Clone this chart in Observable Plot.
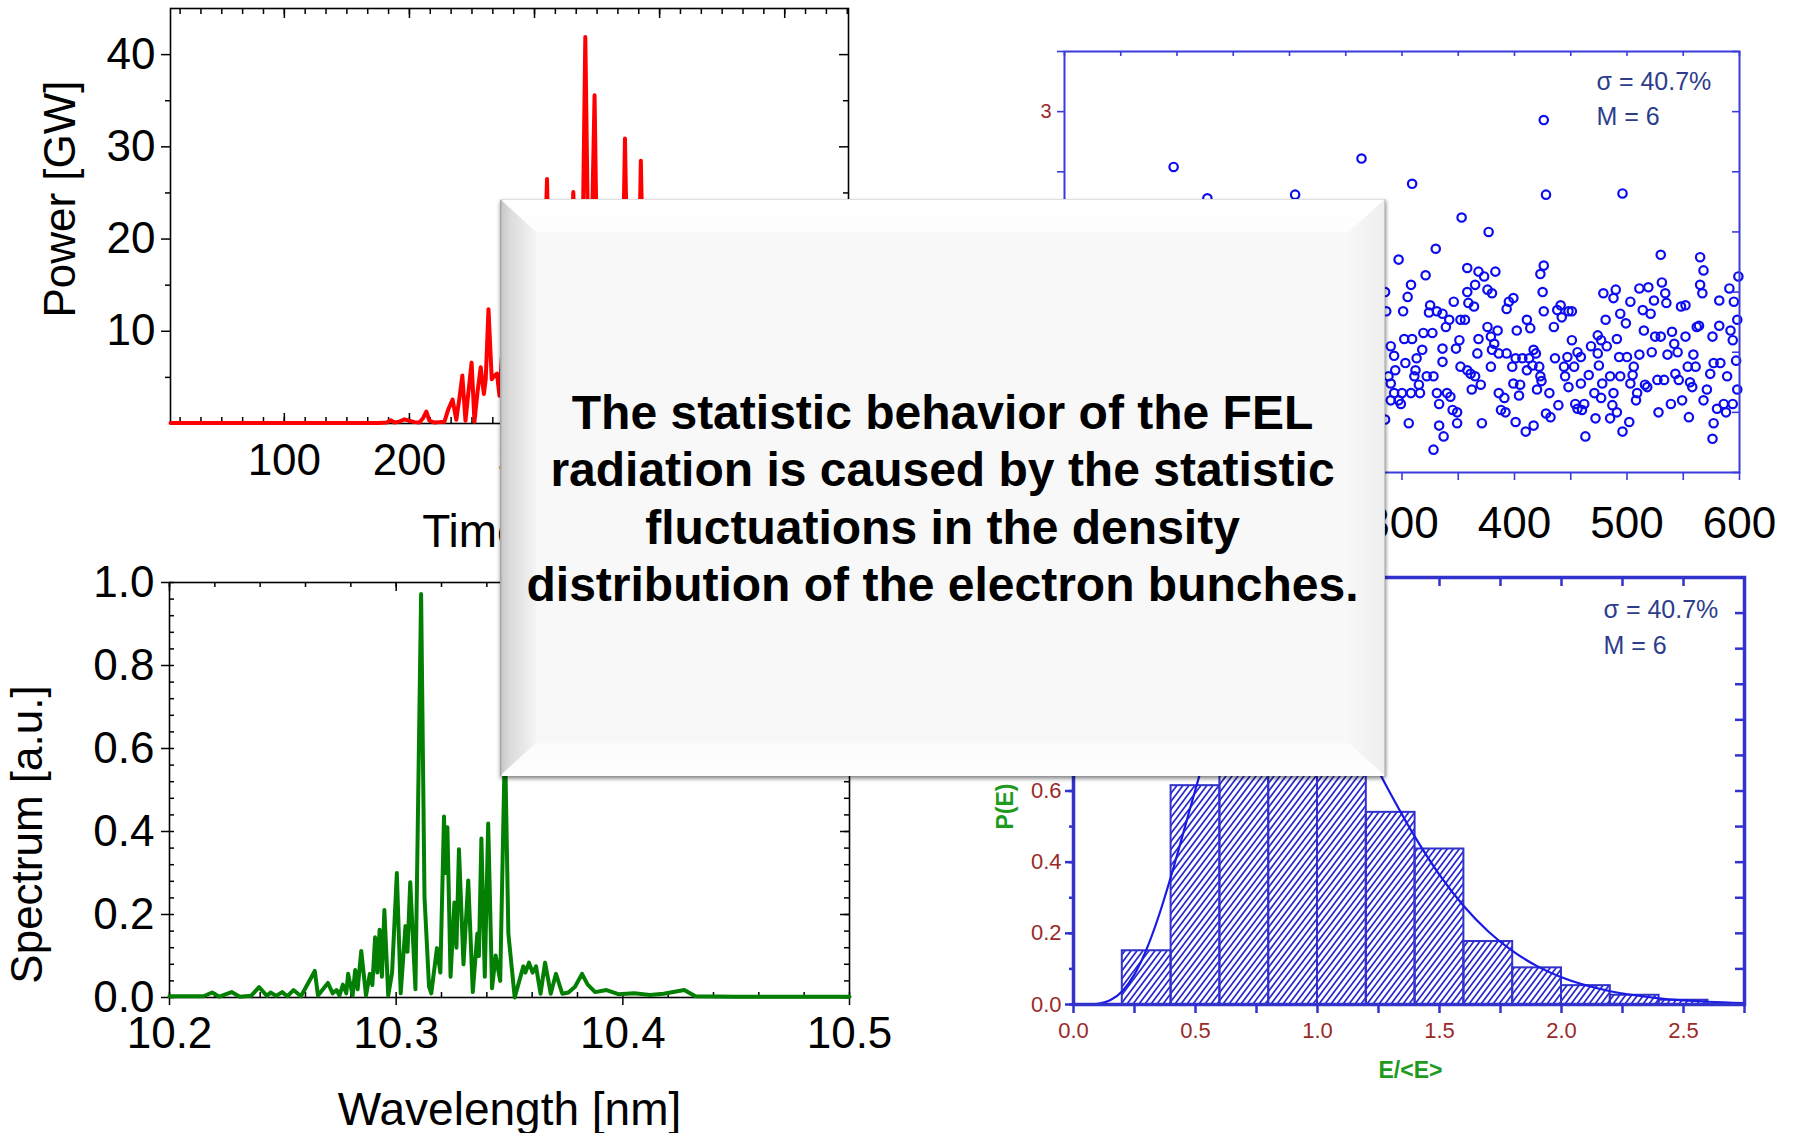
<!DOCTYPE html>
<html>
<head>
<meta charset="utf-8">
<script src="https://cdn.jsdelivr.net/npm/d3@7"></script>
<script src="https://cdn.jsdelivr.net/npm/@observablehq/plot@0.6"></script>
<style>
  html,body{margin:0;padding:0;background:#fff;}
  body{position:relative;width:1794px;height:1133px;overflow:hidden;font-family:"Liberation Sans",Arial,Helvetica,sans-serif;}
  .panel{position:absolute;}
  .panel svg{max-width:none;overflow:visible;}
  #overlay{position:absolute;left:500px;top:199px;width:885px;height:577px;background:#f8f8f8;
    box-shadow:0 3px 4px rgba(0,0,0,0.38), 2px 1px 3px rgba(0,0,0,0.18);}
  #overlay svg{position:absolute;left:0;top:0;}
  #msg{position:absolute;left:0;width:885px;top:185px;text-align:center;font-weight:bold;font-size:48px;line-height:57.3px;color:#000;white-space:nowrap;}
</style>
</head>
<body>
<div id="pA" class="panel" style="left:0;top:0;width:900px;height:560px"></div>
<div id="pB" class="panel" style="left:1000px;top:0;width:794px;height:560px"></div>
<div id="pC" class="panel" style="left:0;top:560px;width:900px;height:573px"></div>
<div id="pD" class="panel" style="left:980px;top:560px;width:814px;height:573px"></div>
<div id="overlay">
  <svg width="885" height="577">
    <defs>
      <linearGradient id="bvL" x1="0" x2="1" y1="0" y2="0"><stop offset="0" stop-color="#c6c6c6"/><stop offset="0.3" stop-color="#dcdcdc"/><stop offset="1" stop-color="#f4f4f4"/></linearGradient>
      <linearGradient id="bvT" x1="0" x2="0" y1="0" y2="1"><stop offset="0" stop-color="#ffffff"/><stop offset="1" stop-color="#fdfdfd"/></linearGradient>
      <linearGradient id="bvR" x1="1" x2="0" y1="0" y2="0"><stop offset="0" stop-color="#eeeeee"/><stop offset="1" stop-color="#f7f7f7"/></linearGradient>
      <linearGradient id="bvB" x1="0" x2="0" y1="1" y2="0"><stop offset="0" stop-color="#fefefe"/><stop offset="1" stop-color="#fbfbfb"/></linearGradient>
    </defs>
    <polygon points="0,0 885,0 849,33 36,33" fill="url(#bvT)"/>
    <polygon points="0,0 36,33 36,544 0,577" fill="url(#bvL)"/>
    <polygon points="885,0 885,577 849,544 849,33" fill="url(#bvR)"/>
    <polygon points="0,577 36,544 849,544 885,577" fill="url(#bvB)"/>
    <line x1="0.75" y1="0" x2="0.75" y2="577" stroke="#a8a8a8" stroke-width="1.5"/>
    <line x1="0" y1="0.5" x2="885" y2="0.5" stroke="#e0e0e0" stroke-width="1"/>
    <line x1="884.5" y1="0" x2="884.5" y2="577" stroke="#c8c8c8" stroke-width="1"/>
  </svg>
  <div id="msg">The statistic behavior of the FEL<br>radiation is caused by the statistic<br>fluctuations in the density<br>distribution of the electron bunches.</div>
</div>
<script>
const FONT = '"Liberation Sans", Arial, Helvetica, sans-serif';

// ---------- Panel A: power vs time ----------
const timeFs = [9, 60, 120, 175, 182, 185, 188, 192, 196, 200, 204, 208, 211, 213.5, 216, 220, 224, 228, 231, 234.5, 237.5, 240, 242.3, 244.8, 247, 249.7, 252, 254.5, 257, 259.5, 261, 263.2, 265.8, 268, 270, 272, 274.5, 277, 280, 283, 286, 289, 292, 295, 298, 301, 304, 307, 310, 313, 316, 319, 322, 325, 328, 331, 334, 337, 340.6, 344, 348, 351, 354, 357, 360, 363, 366, 369, 372.3, 375.5, 379, 382, 385, 388.5, 392, 395, 398, 401, 404, 407, 410, 413, 416, 419, 422, 425, 428, 431, 434, 437, 440, 443, 447, 451, 455, 459, 463, 468, 473, 478, 484, 490, 500, 510, 530, 551];
const powerGW = [0.05, 0.05, 0.05, 0.05, 0.1, 0.35, 0.1, 0.2, 0.45, 0.3, 0.15, 0.1, 0.6, 1.3, 0.3, 0.1, 0.15, 0.2, 1.5, 2.6, 0.4, 2.8, 5.2, 0.3, 3.2, 6.6, 0.2, 3.5, 6.1, 3.2, 4.8, 12.4, 4.8, 5.2, 5.4, 3.0, 8.5, 5.0, 14.0, 4.0, 9.0, 17.5, 6.0, 11.0, 3.5, 19.0, 7.0, 13.0, 26.5, 5.0, 15.5, 8.0, 21.0, 6.0, 12.0, 25.1, 10.0, 4.0, 41.9, 8.0, 35.6, 7.0, 17.0, 5.0, 22.0, 9.0, 14.0, 4.0, 30.9, 6.0, 13.0, 5.0, 28.5, 4.0, 16.0, 5.0, 11.0, 3.0, 19.0, 4.5, 9.0, 2.5, 13.0, 3.0, 7.5, 1.5, 10.0, 2.0, 5.0, 1.0, 6.5, 1.2, 3.5, 0.6, 2.5, 0.5, 1.6, 0.4, 1.0, 0.2, 0.5, 0.1, 0.2, 0.05, 0.05, 0.05];
const powerTickValues = [10, 20, 30, 40];
const powerMinorValues = [5, 15, 25, 35];
const timeTickValues = [100, 200, 300, 400, 500];

// ---------- Panel B: shot-to-shot fluctuations ----------
const shotNo = [
  285,286,290,293,288,290,294,290,297,299,285,293,300,
  297,308,305,301,302,309,306,303,308,311,313,312,315,316,318,319,
  321,325,324,330,327,322,328,333,337,328,331,333,331,336,
  336,339,342,336,340,343,345,349,349,346,348,351,352,352,
  358,358,356,359,364,361,362,367,368,365,368,358,370,371,365,
  373,376,376,377,380,379,380,382,385,383,379,386,388,391,392,386,
  393,395,399,393,398,402,399,401,407,404,401,405,410,
  411,414,413,411,416,417,417,420,423,424,419,422,425,426,
  423,426,428,431,432,435,436,439,441,442,438,444,445,
  447,448,451,448,451,453,456,454,456,459,459,462,460,463,
  466,468,471,472,474,474,475,477,478,477,
  479,481,482,485,485,487,488,490,491,491,488,493,494,494,496,
  499,500,502,503,503,505,506,508,511,511,509,514,515,516,
  518,519,521,522,524,525,527,528,530,531,530,533,534,
  535,536,539,540,542,543,545,546,548,549,
  552,552,554,555,556,558,559,561,562,564,565,565,
  567,568,568,571,574,576,577,577,576,582,582,580,583,
  586,588,589,591,592,594,594,595,597,598,599,598,
  309,353,426,428,496,
  97,127,205,264,
  3,8,12,17,21,26,30,35,39,44,48,53,57,62,66,71,75,80,84,89,93,102,106,111,115,120,124,131,135,140,144,149,153,158,162,167,171,176,180,185,189,194,198,202,209,213,218,222,227,231,236,240,245,249,254,258,262,268,272,276,280
];
const energyRatio = [
  1.50,1.34,1.05,0.97,0.80,0.74,0.85,0.60,0.60,0.57,0.44,0.66,0.66,
  1.77,1.56,1.46,1.34,1.11,1.11,0.41,0.91,0.66,0.80,0.95,0.85,0.73,0.66,1.02,1.16,
  1.64,1.39,1.33,1.86,1.16,0.80,0.80,0.39,0.30,0.19,0.66,0.57,1.34,1.32,
  1.03,1.21,1.27,0.92,0.66,0.63,0.52,0.50,0.41,1.42,1.03,1.10,1.27,0.88,
  1.70,1.50,1.27,1.41,1.38,0.82,0.69,0.99,1.11,1.56,1.67,0.85,0.73,0.41,0.80,
  1.63,1.52,1.21,2.00,1.49,1.13,1.02,1.07,1.18,1.67,0.88,0.66,0.52,0.62,0.50,0.99,
  1.36,1.42,1.45,0.99,0.88,1.18,0.74,0.95,0.95,0.64,0.42,0.73,0.34,
  1.27,1.20,0.95,0.85,0.89,1.02,0.39,0.69,0.80,0.76,0.99,0.88,1.50,1.34,
  1.65,1.72,0.49,0.66,0.46,1.21,0.95,0.56,1.39,1.29,1.35,0.88,0.80,
  0.96,1.34,1.34,0.71,1.10,0.88,1.00,0.57,0.53,0.96,0.74,0.57,0.52,0.30,
  0.81,1.05,0.66,0.45,0.99,1.14,0.89,1.10,0.74,0.62,
  1.49,1.27,1.05,0.80,0.45,0.56,1.45,1.52,0.50,1.11,0.66,0.96,1.32,0.80,0.34,
  1.24,0.96,0.42,0.74,1.42,0.81,0.88,0.60,1.53,0.98,0.66,1.35,1.18,0.73,
  0.71,1.54,1.32,1.00,1.43,1.13,0.77,0.50,1.81,1.58,1.13,0.77,1.49,
  1.41,0.98,0.57,1.17,1.07,0.82,1.00,0.77,1.38,0.60,
  1.39,1.13,0.88,0.46,0.75,0.71,0.98,0.88,1.21,1.22,1.56,1.79,
  1.49,1.68,0.60,0.69,0.82,1.13,0.41,0.91,0.28,1.22,1.43,0.53,0.91,
  0.57,0.50,0.80,1.53,1.18,1.10,0.57,1.42,0.93,1.27,1.63,0.69,
  2.40,2.12,2.93,2.31,2.32,
  2.54,2.28,2.31,2.61,
  0.82,1.21,0.55,1.05,0.93,1.44,0.71,0.48,1.12,0.87,1.63,0.64,0.99,1.30,0.42,0.78,1.18,0.91,1.52,0.58,1.07,0.83,1.26,0.67,0.95,1.41,0.52,1.15,0.76,1.02,1.58,0.61,0.89,1.33,0.45,1.09,0.72,1.47,0.97,0.38,1.20,0.80,1.66,0.59,1.03,0.86,1.38,0.50,1.13,0.74,1.55,0.92,0.63,1.24,0.84,1.71,0.56,1.08,0.79,1.36,0.68
];
const shotTickValues = [100, 200, 300, 400, 500, 600];
const ratioTickValues = [0, 1, 2, 3];
const statsText = ["σ = 40.7%", "M = 6"];

// ---------- Panel C: spectrum ----------
const lambdaNm = [10.200, 10.215, 10.2188, 10.222, 10.2274, 10.231, 10.236, 10.2395, 10.243, 10.2446, 10.247, 10.2497, 10.252, 10.2547, 10.258, 10.2641, 10.2655, 10.2699, 10.272, 10.2737, 10.275, 10.2765, 10.278, 10.2788, 10.2808, 10.2819, 10.283, 10.2846, 10.2867, 10.2884, 10.2895, 10.2907, 10.2917, 10.2927, 10.2937, 10.2948, 10.2965, 10.2982, 10.3003, 10.302, 10.3041, 10.305, 10.3062, 10.3085, 10.311, 10.3125, 10.3145, 10.3155, 10.318, 10.3195, 10.3211, 10.3218, 10.3226, 10.324, 10.3257, 10.3266, 10.3277, 10.3297, 10.3318, 10.3338, 10.3358, 10.3365, 10.3376, 10.3391, 10.3406, 10.3423, 10.3439, 10.3459, 10.348, 10.3495, 10.3523, 10.3561, 10.357, 10.3586, 10.3602, 10.3617, 10.3637, 10.3657, 10.3682, 10.3705, 10.3733, 10.376, 10.3789, 10.382, 10.3845, 10.3878, 10.3928, 10.398, 10.405, 10.412, 10.418, 10.4271, 10.432, 10.45, 10.5];
const spectrumAU = [0.003, 0.003, 0.012, 0.002, 0.013, 0.002, 0.004, 0.025, 0.004, 0.012, 0.004, 0.013, 0.003, 0.018, 0.003, 0.064, 0.005, 0.035, 0.010, 0.018, 0.005, 0.031, 0.010, 0.057, 0.005, 0.066, 0.020, 0.112, 0.005, 0.057, 0.030, 0.145, 0.060, 0.163, 0.050, 0.211, 0.005, 0.060, 0.300, 0.010, 0.172, 0.110, 0.278, 0.020, 0.972, 0.242, 0.026, 0.010, 0.119, 0.060, 0.436, 0.300, 0.410, 0.050, 0.229, 0.120, 0.357, 0.080, 0.282, 0.013, 0.154, 0.100, 0.383, 0.050, 0.419, 0.022, 0.101, 0.040, 0.620, 0.154, 0.000, 0.075, 0.060, 0.084, 0.060, 0.075, 0.009, 0.084, 0.009, 0.057, 0.009, 0.012, 0.026, 0.057, 0.031, 0.013, 0.018, 0.008, 0.010, 0.006, 0.009, 0.018, 0.003, 0.002, 0.002];
const spectrumTickValues = [0, 0.2, 0.4, 0.6, 0.8, 1.0];
const lambdaTickValues = [10.2, 10.3, 10.4, 10.5];

// ---------- Panel D: energy distribution ----------
const histLo = [0.2, 0.4, 0.6, 0.8, 1.0, 1.2, 1.4, 1.6, 1.8, 2.0, 2.2, 2.4];
const histHi = [0.4, 0.6, 0.8, 1.0, 1.2, 1.4, 1.6, 1.8, 2.0, 2.2, 2.4, 2.6];
const histP  = [0.151, 0.615, 0.96, 1.03, 0.86, 0.540, 0.437, 0.177, 0.103, 0.053, 0.026, 0.012];
const gammaX = [0, 0.05, 0.10, 0.15, 0.20, 0.25, 0.30, 0.35, 0.40, 0.45, 0.50, 0.55, 0.60, 0.65, 0.70, 0.75, 0.80, 0.85, 0.90, 0.95, 1.00, 1.10, 1.20, 1.30, 1.40, 1.50, 1.60, 1.70, 1.80, 1.90, 2.00, 2.20, 2.40, 2.60, 2.75];
const gammaP = [0, 0.0001, 0.0021, 0.0120, 0.0375, 0.0847, 0.1562, 0.2501, 0.3612, 0.4822, 0.6049, 0.7217, 0.8261, 0.9131, 0.9800, 1.0250, 1.0485, 1.0518, 1.0369, 1.0066, 0.9638, 0.8518, 0.7223, 0.5915, 0.4702, 0.3644, 0.2761, 0.2052, 0.1499, 0.1078, 0.0764, 0.0371, 0.0173, 0.0078, 0.0042];
const eTickValues = [0, 0.5, 1.0, 1.5, 2.0, 2.5];
const pTickValues = [0, 0.2, 0.4, 0.6, 0.8, 1.0, 1.2];

// ---------- helpers for frame ticks ----------
function tx(values, frameH, len, side, inward, stroke, sw) {
  const o = {x: d => d, stroke, strokeWidth: sw};
  if (side === "bottom") { o.insetTop = frameH - len; if (!inward) o.dy = len; }
  else { o.insetBottom = frameH - len; if (!inward) o.dy = -len; }
  return Plot.tickX(values, o);
}
function ty(values, frameW, len, side, inward, stroke, sw) {
  const o = {y: d => d, stroke, strokeWidth: sw};
  if (side === "left") { o.insetRight = frameW - len; if (!inward) o.dx = -len; }
  else { o.insetLeft = frameW - len; if (!inward) o.dx = len; }
  return Plot.tickY(values, o);
}
const baseStyle = {fontFamily: FONT, background: "transparent", overflow: "visible"};
const mid = {textAnchor: "middle", lineAnchor: "middle"};

// ---------- Panel A ----------
{
  const FH = 415, FW = 678;
  const timeMinor = d3.range(1, 34).map(k => k * 100 / 6);
  const rows = timeFs.map((t, i) => ({t, p: powerGW[i]}));
  const k = "#000";
  const svg = Plot.plot({
    width: 900, height: 560, marginLeft: 170, marginRight: 52, marginTop: 8, marginBottom: 137,
    style: baseStyle,
    x: {domain: [9, 551]}, y: {domain: [0, 45]},
    marks: [
      Plot.frame({stroke: k, strokeWidth: 1.6}),
      tx(timeMinor, FH, 6, "bottom", true, k, 1.5),
      tx(timeTickValues, FH, 10, "bottom", true, k, 1.5),
      tx(timeMinor, FH, 6, "top", true, k, 1.5),
      tx(timeTickValues, FH, 10, "top", true, k, 1.5),
      ty(powerMinorValues, FW, 5, "left", false, k, 1.5),
      ty(powerTickValues, FW, 9, "left", false, k, 1.5),
      ty(powerMinorValues, FW, 5, "right", true, k, 1.5),
      ty(powerTickValues, FW, 9, "right", true, k, 1.5),
      Plot.axisX(timeTickValues, {tickSize: 0, tickPadding: 20, fontSize: 44, label: null, fill: k}),
      Plot.axisY(powerTickValues, {tickSize: 0, tickPadding: 15, fontSize: 44, label: null, fill: k}),
      Plot.line(rows, {x: "t", y: "p", stroke: "#ff0000", strokeWidth: 4, strokeLinejoin: "round"}),
      Plot.text(["Time [fs]"], {frameAnchor: "bottom", dy: 109, fontSize: 46, fill: k, ...mid}),
      Plot.text(["Power [GW]"], {frameAnchor: "left", dx: -110, dy: -17, rotate: -90, fontSize: 44, fill: k, ...mid})
    ]
  });
  document.getElementById("pA").appendChild(svg);
}

// ---------- Panel B ----------
{
  const FH = 421, FW = 675;
  const blue = "#3b3bdc";
  const rows = shotNo.map((s, i) => ({s, e: energyRatio[i]}));
  const step50 = d3.range(0, 601, 50);
  const stepHalf = d3.range(0, 3.51, 0.5);
  const svg = Plot.plot({
    width: 794, height: 560, marginLeft: 64, marginRight: 55, marginTop: 51, marginBottom: 88,
    style: baseStyle,
    x: {domain: [0, 600]}, y: {domain: [0, 3.5]},
    marks: [
      Plot.dot(rows, {x: "s", y: "e", r: 4.2, stroke: "#0c0cf0", strokeWidth: 2.2, fill: "none"}),
      Plot.frame({stroke: blue, strokeWidth: 2}),
      tx(step50, FH, 8, "bottom", false, blue, 1.6),
      tx(step50, FH, 5, "top", true, blue, 1.6),
      ty(stepHalf, FW, 7, "left", false, blue, 1.6),
      ty(stepHalf, FW, 7, "right", true, blue, 1.6),
      Plot.axisX(shotTickValues, {tickSize: 0, tickPadding: 34, fontSize: 44, label: null, fill: "#000"}),
      Plot.axisY(ratioTickValues, {tickSize: 0, tickPadding: 13, fontSize: 20, label: null, fill: "#9a2a2a", tickFormat: d3.format("d")}),
      Plot.text([statsText[0]], {frameAnchor: "top-left", dx: 532, dy: 30, textAnchor: "start", lineAnchor: "middle", fontSize: 25, fill: "#2d3d8c"}),
      Plot.text([statsText[1]], {frameAnchor: "top-left", dx: 532, dy: 65, textAnchor: "start", lineAnchor: "middle", fontSize: 25, fill: "#2d3d8c"})
    ]
  });
  document.getElementById("pB").appendChild(svg);
}

// ---------- Panel C ----------
{
  const FH = 415, FW = 680;
  const k = "#000";
  const rows = lambdaNm.map((l, i) => ({l, s: spectrumAU[i]}));
  const lamMinor = d3.range(0, 16).map(i => 10.2 + i * 0.02);
  const specMinor = d3.range(0, 26).map(i => i * 0.04);
  const svg = Plot.plot({
    width: 900, height: 573, marginLeft: 169, marginRight: 51, marginTop: 22, marginBottom: 136,
    style: baseStyle,
    x: {domain: [10.2, 10.5]}, y: {domain: [0, 1]},
    marks: [
      Plot.frame({stroke: k, strokeWidth: 1.6}),
      tx(lamMinor, FH, 5, "bottom", true, k, 1.5),
      tx(lambdaTickValues, FH, 8, "bottom", false, k, 1.5),
      tx(lamMinor, FH, 5, "top", true, k, 1.5),
      tx(lambdaTickValues, FH, 9, "top", true, k, 1.5),
      ty(specMinor, FW, 5, "left", true, k, 1.5),
      ty(spectrumTickValues, FW, 8, "left", false, k, 1.5),
      ty(specMinor, FW, 5, "right", true, k, 1.5),
      ty(spectrumTickValues, FW, 9, "right", true, k, 1.5),
      Plot.axisX(lambdaTickValues, {tickSize: 0, tickPadding: 19, fontSize: 44, label: null, fill: k, tickFormat: d3.format(".1f")}),
      Plot.axisY(spectrumTickValues, {tickSize: 0, tickPadding: 15, fontSize: 44, label: null, fill: k, tickFormat: d3.format(".1f")}),
      Plot.line(rows, {x: "l", y: "s", stroke: "#038003", strokeWidth: 4, strokeLinejoin: "round"}),
      Plot.text(["Wavelength [nm]"], {frameAnchor: "bottom", dy: 113, fontSize: 46, fill: k, ...mid}),
      Plot.text(["Spectrum [a.u.]"], {frameAnchor: "left", dx: -141.5, dy: 44.5, rotate: -90, fontSize: 44, fill: k, ...mid})
    ]
  });
  document.getElementById("pC").appendChild(svg);
}

// ---------- Panel D ----------
{
  const FH = 427, FW = 671;
  const blue = "#3232cc";
  const red = "#9a2a2a";
  const green = "#1e9b1e";
  const bars = histLo.map((lo, i) => ({lo, hi: histHi[i], p: histP[i]}));
  const curve = gammaX.map((x, i) => ({x, p: gammaP[i]}));
  const step25 = d3.range(0, 2.76, 0.25);
  const step1 = d3.range(0, 1.21, 0.1);
  const step2 = d3.range(0, 1.21, 0.2);
  const svg = Plot.plot({
    width: 814, height: 573, marginLeft: 93, marginRight: 50, marginTop: 17, marginBottom: 129,
    style: baseStyle,
    x: {domain: [0, 2.75]}, y: {domain: [0, 1.2]},
    marks: [
      Plot.rectY(bars, {x1: "lo", x2: "hi", y: "p", fill: "url(#hatchD)", stroke: blue, strokeWidth: 2}),
      Plot.line(curve, {x: "x", y: "p", stroke: "#1a1ae6", strokeWidth: 2.2, curve: "monotone-x"}),
      Plot.frame({stroke: blue, strokeWidth: 3.5}),
      tx(step25, FH, 9, "bottom", false, blue, 2.5),
      tx(step25, FH, 9, "top", true, blue, 2.5),
      ty(step2, FW, 8, "left", false, blue, 2.5),
      ty(step1, FW, 4, "left", false, blue, 2.5),
      ty(step1, FW, 9, "right", true, blue, 2.5),
      Plot.axisX(eTickValues, {tickSize: 0, tickPadding: 18, fontSize: 22, label: null, fill: red, tickFormat: d3.format(".1f")}),
      Plot.axisY(pTickValues, {tickSize: 0, tickPadding: 12, fontSize: 22, label: null, fill: red, tickFormat: d3.format(".1f")}),
      Plot.text(["E/<E>"], {frameAnchor: "bottom", dy: 66, dx: 1.5, fontSize: 23, fontWeight: "bold", fill: green, ...mid}),
      Plot.text(["P(E)"], {frameAnchor: "left", dx: -68, dy: 15.5, rotate: -90, fontSize: 23, fontWeight: "bold", fill: green, ...mid}),
      Plot.text([statsText[0]], {frameAnchor: "top-left", dx: 530, dy: 32, textAnchor: "start", lineAnchor: "middle", fontSize: 25, fill: "#2d3d8c"}),
      Plot.text([statsText[1]], {frameAnchor: "top-left", dx: 530, dy: 68, textAnchor: "start", lineAnchor: "middle", fontSize: 25, fill: "#2d3d8c"})
    ]
  });
  const ns = "http://www.w3.org/2000/svg";
  const defs = document.createElementNS(ns, "defs");
  defs.innerHTML = '<pattern id="hatchD" patternUnits="userSpaceOnUse" width="6" height="8"><path d="M-1.5,2 L1.5,-2 M0,8 L6,0 M4.5,10 L7.5,6" stroke="#2a2ad0" stroke-width="1.7" fill="none"/></pattern>';
  svg.insertBefore(defs, svg.firstChild);
  document.getElementById("pD").appendChild(svg);
}
</script>
</body>
</html>
